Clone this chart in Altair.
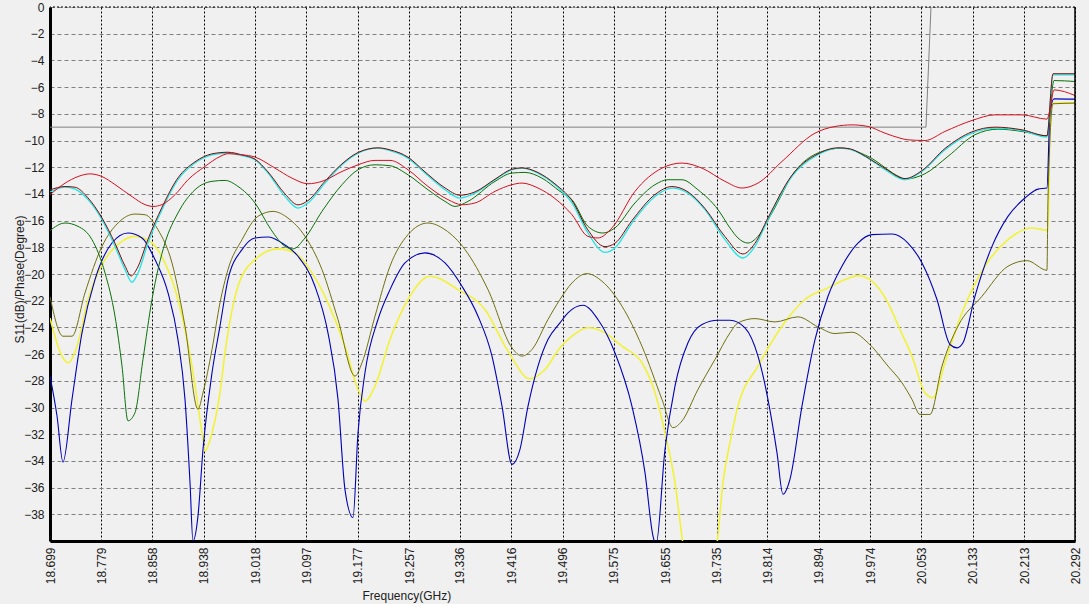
import altair as alt
import pandas as pd

# ---------------- data (frequency in GHz, S11 in dB) ----------------
x_ticks = [18.699, 18.779, 18.858, 18.938, 19.018, 19.097, 19.177, 19.257, 19.336,
           19.416, 19.496, 19.575, 19.655, 19.735, 19.814, 19.894, 19.974, 20.053,
           20.133, 20.213, 20.292]
y_ticks = [0, -2, -4, -6, -8, -10, -12, -14, -16, -18, -20, -22, -24, -26, -28,
           -30, -32, -34, -36, -38]

gray_f = [18.699, 20.0604, 20.0682, 20.0713]
gray_db = [-9.0, -9.0, 0.0, 1.0]

red_f = [18.6990, 18.7223, 18.7425, 18.7612, 18.7798, 18.8000, 18.8264, 18.8466, 18.8591,
         18.8731, 18.8933, 18.9135, 18.9399, 18.9632, 18.9756, 18.9974, 19.0176, 19.0487,
         19.0751, 19.1000, 19.1217, 19.1528, 19.1777, 19.2041, 19.2274, 19.2554, 19.2864,
         19.3176, 19.3393, 19.3595, 19.3906, 19.4170, 19.4325, 19.4574, 19.4838, 19.5102,
         19.5350, 19.5506, 19.5723, 19.6081, 19.6501, 19.6812, 19.7123, 19.7480, 19.7744,
         19.7993, 19.8366, 19.8879, 19.9190, 19.9454, 19.9703, 19.9967, 20.0200, 20.0324,
         20.0588, 20.0899, 20.1319, 20.1676, 20.2096, 20.2484, 20.2531, 20.2593, 20.2920]
red_db = [-14.06, -13.2, -12.7, -12.5, -12.7, -13.3, -14.2, -14.8, -14.94,
          -14.8, -14.06, -12.94, -11.94, -11.2, -10.99, -11.07, -11.24, -12.07,
          -12.82, -13.24, -13.06, -12.32, -11.82, -11.49, -11.49, -12.19, -13.44,
          -14.43, -14.81, -14.68, -13.81, -13.31, -13.19, -13.56, -14.35, -15.56,
          -17.18, -17.3, -16.55, -13.81, -12.07, -11.69, -12.07, -13.06, -13.56,
          -13.19, -11.57, -9.45, -8.95, -8.83, -8.95, -9.45, -9.82, -9.95,
          -10.0, -9.32, -8.5, -8.08, -8.08, -8.4, -7.7, -6.21, -6.63]

cyan_f = [18.6990, 18.7223, 18.7379, 18.7581, 18.7798, 18.8000, 18.8156, 18.8264, 18.8358,
          18.8513, 18.8731, 18.8979, 18.9243, 18.9508, 18.9756, 18.9974, 19.0176, 19.0378,
          19.0642, 19.0844, 19.1000, 19.1264, 19.1528, 19.1777, 19.2087, 19.2274, 19.2554,
          19.2818, 19.3129, 19.3362, 19.3595, 19.3906, 19.4170, 19.4325, 19.4574, 19.4838,
          19.5102, 19.5350, 19.5615, 19.5770, 19.6034, 19.6392, 19.6656, 19.6905, 19.7170,
          19.7480, 19.7759, 19.7946, 19.8148, 19.8521, 19.8925, 19.9236, 19.9392, 19.9703,
          19.9967, 20.0278, 20.0542, 20.0899, 20.1319, 20.1676, 20.2096, 20.2484, 20.2578,
          20.2920]
cyan_db = [-13.85, -13.49, -13.64, -14.43, -15.93, -17.93, -19.67, -20.62, -19.92,
           -17.68, -15.18, -12.94, -11.69, -11.07, -10.94, -11.14, -11.44, -12.44,
           -14.19, -15.06, -14.68, -13.19, -11.82, -10.94, -10.57, -10.75, -11.32,
           -12.44, -13.69, -14.31, -13.94, -12.94, -12.19, -12.07, -12.44, -13.31,
           -14.68, -16.93, -18.38, -18.05, -16.18, -14.19, -13.56, -13.94, -15.18,
           -17.43, -18.8, -17.93, -15.93, -12.69, -11.07, -10.57, -10.62, -11.32,
           -12.19, -12.94, -12.32, -10.7, -9.45, -9.07, -9.25, -9.75, -5.08,
           -5.08]

maroon_f = [18.6990, 18.7223, 18.7379, 18.7581, 18.7798, 18.8000, 18.8156, 18.8249, 18.8342,
            18.8513, 18.8731, 18.8979, 18.9243, 18.9508, 18.9756, 18.9974, 19.0176, 19.0378,
            19.0642, 19.0844, 19.1000, 19.1264, 19.1528, 19.1777, 19.2087, 19.2274, 19.2554,
            19.2818, 19.3129, 19.3362, 19.3595, 19.3906, 19.4170, 19.4325, 19.4574, 19.4838,
            19.5102, 19.5350, 19.5615, 19.5770, 19.6034, 19.6392, 19.6656, 19.6905, 19.7170,
            19.7480, 19.7759, 19.7946, 19.8148, 19.8521, 19.8925, 19.9236, 19.9392, 19.9703,
            19.9967, 20.0278, 20.0542, 20.0899, 20.1319, 20.1676, 20.2096, 20.2484, 20.2578,
            20.2920]
maroon_db = [-13.7, -13.45, -13.5, -14.3, -15.8, -17.7, -19.4, -20.15, -19.6,
             -17.4, -15.0, -12.8, -11.6, -11.0, -10.88, -11.08, -11.4, -12.35,
             -14.0, -14.82, -14.5, -13.05, -11.75, -10.9, -10.55, -10.7, -11.25,
             -12.35, -13.55, -14.1, -13.85, -12.9, -12.15, -12.05, -12.4, -13.25,
             -14.5, -16.7, -17.95, -17.7, -16.0, -14.05, -13.45, -13.85, -15.1,
             -17.2, -18.5, -17.7, -15.8, -12.6, -11.0, -10.55, -10.6, -11.3,
             -12.1, -12.85, -12.25, -10.6, -9.35, -9.0, -9.2, -9.65, -5.0,
             -5.0]

green_f = [18.6990, 18.7223, 18.7425, 18.7643, 18.7845, 18.8000, 18.8109, 18.8202, 18.8311,
           18.8435, 18.8575, 18.8777, 18.8979, 18.9243, 18.9508, 18.9710, 18.9912, 19.0176,
           19.0425, 19.0642, 19.0766, 19.0953, 19.1217, 19.1528, 19.1777, 19.2041, 19.2274,
           19.2554, 19.2864, 19.3129, 19.3284, 19.3486, 19.3906, 19.4170, 19.4372, 19.4636,
           19.4916, 19.5102, 19.5350, 19.5583, 19.5770, 19.6081, 19.6392, 19.6594, 19.6812,
           19.7060, 19.7372, 19.7558, 19.7682, 19.7837, 19.7993, 19.8210, 19.8567, 19.8925,
           19.9298, 19.9703, 20.0200, 20.0278, 20.0588, 20.0946, 20.1365, 20.1723, 20.2096,
           20.2484, 20.2593, 20.2920]
green_db = [-16.75, -16.18, -16.43, -17.43, -19.92, -23.16, -26.9, -31.0, -30.39,
            -26.4, -21.91, -17.68, -15.43, -13.69, -13.06, -12.99, -13.44, -14.68,
            -16.68, -17.93, -18.12, -17.3, -15.31, -13.31, -12.19, -11.82, -11.89,
            -12.57, -13.69, -14.56, -14.94, -14.56, -13.06, -12.44, -12.39, -12.82,
            -13.81, -14.43, -16.43, -16.93, -16.55, -14.68, -13.31, -12.94, -12.94,
            -13.69, -15.18, -16.55, -17.3, -17.68, -17.18, -15.43, -12.32, -10.94,
            -10.57, -11.19, -12.74, -12.89, -12.49, -11.19, -9.57, -9.15, -9.32,
            -9.65, -5.51, -5.58]

olive_f = [18.6990, 18.7192, 18.7332, 18.7534, 18.7798, 18.8047, 18.8311, 18.8466, 18.8668,
           18.8886, 18.9088, 18.9290, 18.9368, 18.9508, 18.9632, 18.9756, 18.9974, 19.0222,
           19.0456, 19.0689, 19.0953, 19.1217, 19.1466, 19.1730, 19.1839, 19.2041, 19.2274,
           19.2554, 19.2864, 19.3129, 19.3440, 19.3797, 19.4170, 19.4325, 19.4481, 19.4729,
           19.4916, 19.5102, 19.5335, 19.5568, 19.5879, 19.6190, 19.6501, 19.6672, 19.6812,
           19.7060, 19.7325, 19.7558, 19.7682, 19.7946, 19.8257, 19.8614, 19.8925, 19.9190,
           19.9454, 19.9703, 20.0014, 20.0231, 20.0386, 20.0511, 20.0666, 20.0853, 20.1101,
           20.1474, 20.1878, 20.2174, 20.2484, 20.2500, 20.2578, 20.2920]
olive_db = [-21.7, -24.66, -24.66, -21.41, -17.93, -16.18, -15.51, -15.56, -16.68,
            -19.17, -23.91, -30.14, -28.89, -25.65, -22.16, -19.67, -17.43, -15.68,
            -15.31, -15.81, -17.18, -19.67, -23.41, -27.65, -26.65, -23.16, -19.42,
            -17.05, -16.18, -16.68, -18.17, -21.17, -25.53, -26.15, -25.65, -23.41,
            -21.91, -20.67, -19.97, -20.54, -22.41, -25.41, -29.39, -31.51, -31.01,
            -28.65, -26.4, -24.41, -23.66, -23.34, -23.59, -23.21, -23.96, -24.46,
            -24.36, -25.15, -26.9, -28.15, -29.39, -30.52, -30.52, -26.9, -23.91,
            -21.67, -19.42, -19.0, -19.72, -14.4, -7.25, -7.2]

yellow_f = [18.6990, 18.7176, 18.7270, 18.7410, 18.7581, 18.7845, 18.8109, 18.8311, 18.8575,
            18.8777, 18.8979, 18.9197, 18.9352, 18.9399, 18.9508, 18.9632, 18.9710, 18.9912,
            19.0176, 19.0533, 19.0797, 19.1062, 19.1310, 19.1574, 19.1777, 19.1885, 19.2041,
            19.2274, 19.2554, 19.2896, 19.3331, 19.3750, 19.4108, 19.4450, 19.4683, 19.4916,
            19.5102, 19.5350, 19.5615, 19.5879, 19.6190, 19.6392, 19.6548, 19.6703, 19.6827,
            19.7092, 19.7356, 19.7449, 19.7558, 19.7682, 19.7993, 19.8366, 19.8723, 19.9081,
            19.9345, 19.9547, 19.9765, 20.0014, 20.0200, 20.0386, 20.0588, 20.0713, 20.0899,
            20.1163, 20.1521, 20.1878, 20.2251, 20.2500, 20.2531, 20.2578, 20.2920]
yellow_db = [-23.3, -26.15, -26.65, -25.41, -21.91, -18.92, -17.55, -17.18, -17.68,
             -19.17, -21.91, -26.9, -31.88, -33.26, -31.88, -28.89, -25.9, -20.92,
             -18.92, -18.12, -18.42, -19.92, -22.16, -25.41, -28.65, -29.52, -28.4,
             -24.91, -21.91, -20.17, -21.17, -22.66, -25.78, -27.85, -27.15, -25.53,
             -24.66, -24.03, -24.41, -25.41, -26.65, -28.89, -31.88, -35.62, -40.2,
             -45.0, -40.2, -35.62, -32.63, -29.9, -26.9, -23.91, -21.91, -21.04,
             -20.42, -20.12, -20.54, -22.16, -24.16, -26.15, -28.89, -29.27, -26.65,
             -22.91, -19.42, -17.43, -16.55, -16.73, -9.45, -7.2, -7.15]

blue_f = [18.6990, 18.7099, 18.7192, 18.7332, 18.7487, 18.7689, 18.7953, 18.8202, 18.8420,
          18.8622, 18.8824, 18.8979, 18.9088, 18.9166, 18.9212, 18.9290, 18.9368, 18.9508,
          18.9632, 18.9756, 18.9974, 19.0176, 19.0378, 19.0596, 19.0844, 19.1108, 19.1310,
          19.1466, 19.1574, 19.1699, 19.1777, 19.1885, 19.2087, 19.2274, 19.2507, 19.2818,
          19.3129, 19.3393, 19.3642, 19.3859, 19.4015, 19.4170, 19.4294, 19.4419, 19.4574,
          19.4729, 19.4916, 19.5040, 19.5273, 19.5506, 19.5770, 19.6034, 19.6237, 19.6361,
          19.6408, 19.6548, 19.6703, 19.6905, 19.7123, 19.7372, 19.7558, 19.7791, 19.7993,
          19.8148, 19.8288, 19.8381, 19.8490, 19.8677, 19.8879, 19.9081, 19.9298, 19.9547,
          19.9765, 20.0076, 20.0324, 20.0542, 20.0775, 20.0977, 20.1086, 20.1179, 20.1365,
          20.1630, 20.1878, 20.2142, 20.2345, 20.2484, 20.2531, 20.2593, 20.2920]
blue_db = [-27.65, -30.64, -34.09, -29.39, -24.41, -20.42, -17.68, -16.93, -17.3,
           -18.92, -21.41, -24.91, -29.39, -35.62, -40.0, -38.12, -33.13, -27.4,
           -23.91, -20.42, -18.17, -17.3, -17.23, -17.68, -18.67, -20.92, -24.41,
           -29.39, -36.13, -38.24, -31.88, -27.4, -23.41, -21.17, -19.17, -18.42,
           -19.17, -20.92, -23.16, -26.15, -29.9, -34.26, -33.13, -29.9, -26.9,
           -24.91, -23.66, -22.91, -22.34, -23.41, -25.9, -29.9, -34.88, -39.62,
           -40.3, -33.13, -28.4, -25.15, -23.78, -23.46, -23.46, -24.03, -26.15,
           -29.39, -33.38, -36.5, -35.38, -29.9, -24.91, -21.67, -19.42, -17.68,
           -17.05, -17.0, -17.68, -19.17, -21.91, -25.28, -25.53, -25.15, -21.67,
           -17.93, -15.68, -14.31, -13.64, -13.56, -7.95, -6.88, -6.9]

# draw order: first is bottom
series = [
    ("gray", gray_f, gray_db, "#808080", 1.0, "linear"),
    ("yellow", yellow_f, yellow_db, "#f2f23a", 1.6, "monotone"),
    ("olive", olive_f, olive_db, "#707010", 1.0, "monotone"),
    ("blue", blue_f, blue_db, "#0000b8", 1.1, "monotone"),
    ("green", green_f, green_db, "#0a700a", 1.0, "monotone"),
    ("cyan", cyan_f, cyan_db, "#22e6e6", 1.3, "monotone"),
    ("maroon", maroon_f, maroon_db, "#780c0c", 1.0, "monotone"),
    ("red", red_f, red_db, "#d81020", 1.0, "monotone"),
]

FONT = "Liberation Sans"

x_enc = alt.X(
    "freq:Q",
    scale=alt.Scale(domain=[18.699, 20.292], nice=False, zero=False),
    axis=alt.Axis(
        values=x_ticks, format=".3f", labelAngle=-90, labelFontSize=12,
        labelFont=FONT, labelColor="#202020", labelPadding=6, ticks=False,
        labelFlush=False, labelOverlap=False,
        domainColor="#000000", domainWidth=3,
        grid=True, gridColor="#000000", gridDash=[2, 2], gridWidth=1, gridOpacity=1,
        title="Frequency(GHz)", titleFont=FONT, titleFontSize=12,
        titleFontWeight="normal", titleColor="#202020",
        titleX=312, titleY=54, titleAlign="left", titleBaseline="middle",
    ),
)
y_enc = alt.Y(
    "db:Q",
    scale=alt.Scale(domain=[-40, 0], nice=False, zero=False),
    axis=alt.Axis(
        values=y_ticks, format="d", labelFontSize=12, labelFont=FONT,
        labelColor="#202020", labelPadding=6, ticks=False, labelOverlap=False,
        domainColor="#000000", domainWidth=3,
        grid=True, gridColor="#808080", gridDash=[4, 3], gridWidth=1, gridOpacity=1,
        title="S11(dB)/Phase(Degree)", titleFont=FONT, titleFontSize=12,
        titleFontWeight="normal", titleColor="#202020",
        titleX=-31, titleY=272, titleAlign="center", titleBaseline="middle",
    ),
)

layers = []
for name, f, d, col, w, interp in series:
    df = pd.DataFrame({"freq": f, "db": d, "idx": list(range(len(f)))})
    layers.append(
        alt.Chart(df).mark_line(color=col, strokeWidth=w, clip=True, interpolate=interp)
        .encode(x=x_enc, y=y_enc, order="idx:Q")
    )

# frame: dashed top edge and solid right edge
top_df = pd.DataFrame({"db": [0]})
right_df = pd.DataFrame({"freq": [20.292]})
layers.append(alt.Chart(top_df).mark_rule(color="#000000", strokeDash=[2, 2], strokeWidth=1).encode(y=y_enc))
layers.append(alt.Chart(right_df).mark_rule(color="#000000", strokeWidth=1.5).encode(x=x_enc))

chart = alt.layer(*layers).properties(
    width=1025, height=534,
    padding={"left": 50, "top": 7, "right": 14, "bottom": 63},
    autosize=alt.AutoSizeParams(type="none"),
    background="#f0f0f0",
).configure_view(stroke=None)

chart.save("out.html", embed_options={"renderer": "svg", "actions": False})
